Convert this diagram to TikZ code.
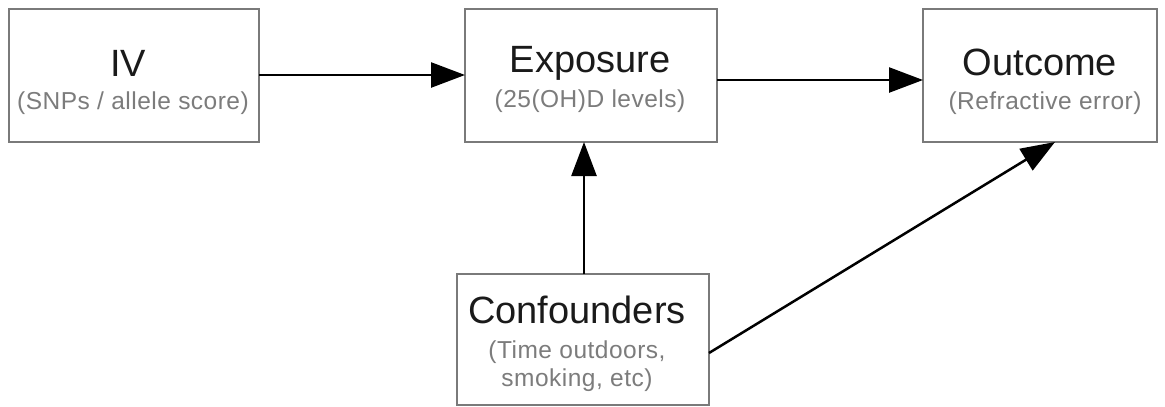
\documentclass[tikz,border=0pt]{standalone}
\usepackage{fontspec}
\setmainfont{Liberation Sans}
\newfontfamily\subfont[LetterSpace=2]{Liberation Sans}
\usetikzlibrary{arrows.meta}
\definecolor{boxgray}{HTML}{7A7A7A}
\definecolor{subgray}{HTML}{7C7C7C}
\definecolor{titleblack}{HTML}{1A1A1A}
\tikzset{
  box/.style={draw=boxgray, line width=1.6pt, fill=white, rectangle, inner sep=0pt},
  title/.style={anchor=base, inner sep=0pt, text=titleblack, font=\fontsize{38}{40}\selectfont},
  sub/.style={anchor=base, inner sep=0pt, text=subgray, font=\subfont\fontsize{24.5}{27}\selectfont},
  conn/.style={draw=black, line width=2.5pt, -{Triangle[length=34pt,width=25pt]}}
}
\begin{document}
\begin{tikzpicture}[x=1pt,y=-1pt]
\useasboundingbox (0,0) rectangle (1165,407);
% boxes
\node[box, minimum width=250pt, minimum height=133pt] (iv) at (134,75.5) {};
\node[box, minimum width=252pt, minimum height=133pt] (exp) at (591,75.5) {};
\node[box, minimum width=234pt, minimum height=133pt] (out) at (1040,75.5) {};
\node[box, minimum width=252pt, minimum height=131pt] (conf) at (583,339.5) {};
% texts
\node[title] (ivt) at (128,76) {IV};
\node[sub] (ivs) at (133,109) {(SNPs / allele score)};
\node[title] (expt) at (590,72) {Exposure};
\node[sub] (exps) at (590,107) {(25(OH)D levels)};
\node[title] (outt) at (1040,75) {Outcome};
\node[sub] (outs) at (1045,109) {(Refractive error)};
\node[title] (conft) at (577,323) {Confounders};
\node[sub] (confs1) at (577,358) {(Time outdoors,};
\node[sub] (confs2) at (577,386) {smoking, etc)};
% connectors
\coordinate (ivR) at (259,75);
\coordinate (expL) at (465,75);
\coordinate (expR) at (717,80);
\coordinate (outL) at (923,80);
\coordinate (confT) at (584,274);
\coordinate (expB) at (584,142);
\coordinate (confR) at (709,353);
\coordinate (outB) at (1055,142);
\draw[conn] (ivR) -- (expL);
\draw[conn] (expR) -- (outL);
\draw[conn] (confT) -- (expB);
\draw[conn] (confR) -- (outB);
\end{tikzpicture}
\end{document}
